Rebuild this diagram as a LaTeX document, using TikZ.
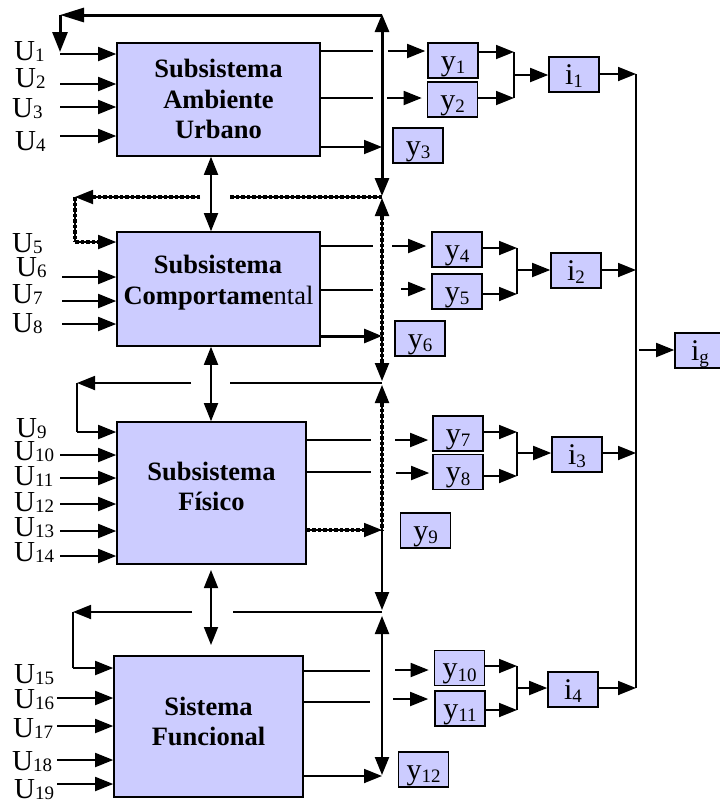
\documentclass[tikz,border=0pt]{standalone}
\usepackage{fontspec}
\setmainfont{Liberation Serif}
\usetikzlibrary{arrows.meta}
\definecolor{boxfill}{RGB}{204,204,255}
\newcommand\usb[1]{\raisebox{-1.5pt}{\fontsize{19}{19}\selectfont #1}}
\newcommand\ysb[1]{\raisebox{-3.5pt}{\fontsize{19}{19}\selectfont #1}}
\tikzset{
  sysbox/.style={draw, fill=boxfill, line width=1.6pt, inner sep=0pt},
  smallbox/.style={draw, fill=boxfill, line width=1.6pt, inner sep=0pt,
    minimum width=50pt, minimum height=35pt, text height=24pt, text depth=5pt,
    font=\fontsize{30}{30}\selectfont},
  boxtext/.style={anchor=base, inner sep=0pt, font=\fontsize{26.5}{30}\selectfont\bfseries},
  ulabel/.style={anchor=base west, inner sep=0pt, font=\fontsize{29}{29}\selectfont},
  conn/.style={line width=1.8pt},
  arr/.style={line width=1.8pt, -{Triangle[length=18pt,width=14pt]}},
  darr/.style={line width=1.8pt, {Triangle[length=18pt,width=14pt]}-{Triangle[length=18pt,width=14pt]}},
  busbold/.style={line width=3pt, {Triangle[length=18pt,width=14pt]}-{Triangle[length=18pt,width=14pt]}},
  busthin/.style={line width=2.2pt, {Triangle[length=18pt,width=14pt]}-{Triangle[length=18pt,width=14pt]}},
  dashov/.style={postaction={draw, -, line width=4pt, dash pattern=on 3.5pt off 2pt, #1}},
  dashov/.default={},
}
\begin{document}
\begin{tikzpicture}[x=1pt,y=-1pt]
\useasboundingbox (0,0) rectangle (720,804);

% main system boxes
\node[sysbox, minimum width=203pt, minimum height=113pt] (b1) at (218.5,99.5) {};
\node[sysbox, minimum width=203pt, minimum height=114pt] (b2) at (218.5,289) {};
\node[sysbox, minimum width=189pt, minimum height=142pt] (b3) at (211.5,493) {};
\node[sysbox, minimum width=189pt, minimum height=141pt] (b4) at (208.5,726.5) {};

\node[boxtext] (t1a) at (218.5,77.3) {Subsistema};
\node[boxtext] (t1b) at (218.5,108.3) {Ambiente};
\node[boxtext] (t1c) at (218.5,138.3) {Urbano};
\node[boxtext] (t2a) at (218,273.3) {Subsistema};
\node[boxtext] (t2b) at (218.5,304) {Comportame{\mdseries ntal}};
\node[boxtext] (t3a) at (211.5,480) {Subsistema};
\node[boxtext] (t3b) at (211.5,510) {Físico};
\node[boxtext] (t4a) at (208.5,715) {Sistema};
\node[boxtext] (t4b) at (208.5,745) {Funcional};

% output boxes
\node[smallbox] (y1) at (453,60.5) {y\ysb{1}};
\node[smallbox] (y2) at (452.5,99.5) {y\ysb{2}};
\node[smallbox] (y3) at (418,145.5) {y\ysb{3}};
\node[smallbox] (y4) at (457,249.5) {y\ysb{4}};
\node[smallbox] (y5) at (457,291.5) {y\ysb{5}};
\node[smallbox] (y6) at (420,338.5) {y\ysb{6}};
\node[smallbox] (y7) at (458,433.5) {y\ysb{7}};
\node[smallbox] (y8) at (458,472) {y\ysb{8}};
\node[smallbox] (y9) at (425.5,530.5) {y\ysb{9}};
\node[smallbox] (y10) at (459.5,668) {y\ysb{10}};
\node[smallbox] (y11) at (460,708.5) {y\ysb{11}};
\node[smallbox] (y12) at (423.5,769.5) {y\ysb{12}};
\node[smallbox] (i1) at (574,74.5) {i\ysb{1}};
\node[smallbox] (i2) at (576,270.5) {i\ysb{2}};
\node[smallbox] (i3) at (577,454.5) {i\ysb{3}};
\node[smallbox] (i4) at (573,689.5) {i\ysb{4}};
\node[smallbox] (ig) at (700,350.5) {i\ysb{g}};

% input labels
\node[ulabel] (u1) at (14,60) {U\usb{1}};
\node[ulabel] (u2) at (15,87) {U\usb{2}};
\node[ulabel] (u3) at (12,117) {U\usb{3}};
\node[ulabel] (u4) at (15,150) {U\usb{4}};
\node[ulabel] (u5) at (12,252) {U\usb{5}};
\node[ulabel] (u6) at (16,276) {U\usb{6}};
\node[ulabel] (u7) at (12,303) {U\usb{7}};
\node[ulabel] (u8) at (12,332) {U\usb{8}};
\node[ulabel] (u9) at (16,437) {U\usb{9}};
\node[ulabel] (u10) at (14,460) {U\usb{10}};
\node[ulabel] (u11) at (14,485) {U\usb{11}};
\node[ulabel] (u12) at (14,511) {U\usb{12}};
\node[ulabel] (u13) at (14,536) {U\usb{13}};
\node[ulabel] (u14) at (14,561) {U\usb{14}};
\node[ulabel] (u15) at (14,683) {U\usb{15}};
\node[ulabel] (u16) at (14,708) {U\usb{16}};
\node[ulabel] (u17) at (13,737) {U\usb{17}};
\node[ulabel] (u18) at (12,770) {U\usb{18}};
\node[ulabel] (u19) at (14,798) {U\usb{19}};

% input arrows
\foreach \n/\yy in {2/84,3/107,4/136} {
  \coordinate (in\n) at (60,\yy);
  \draw[arr] (in\n) -- (in\n -| b1.west);
}
\foreach \n/\yy in {6/277,7/301,8/324} {
  \coordinate (in\n) at (62,\yy);
  \draw[arr] (in\n) -- (in\n -| b2.west);
}
\foreach \n/\yy in {10/455,11/478,12/504,13/531,14/556} {
  \coordinate (in\n) at (60,\yy);
  \draw[arr] (in\n) -- (in\n -| b3.west);
}
\foreach \n/\yy in {16/698,17/726,18/760,19/784} {
  \coordinate (in\n) at (57,\yy);
  \draw[arr] (in\n) -- (in\n -| b4.west);
}

% top feedback to U1
\coordinate (bx) at (382,15);
\coordinate (fb0) at (60,15);
\coordinate (fb1) at (60,52);
\coordinate (in1) at (60,54);
\draw[line width=3pt, -{Triangle[length=24pt,width=14pt]}] (bx) -- (fb0);
\draw[line width=3pt, -{Triangle[length=20pt,width=15pt]}] (fb0) -- (fb1);
\draw[arr] (in1) -- (in1 -| b1.west);

% vertical bus
\coordinate (s1a) at (382,14);
\coordinate (s1b) at (382,196);
\coordinate (s2a) at (382,198);
\coordinate (s2b) at (382,381);
\coordinate (s3a) at (382,385);
\coordinate (s3m) at (382,530);
\coordinate (s3b) at (382,610);
\coordinate (s4a) at (382,616);
\coordinate (s4b) at (382,775);
\draw[busbold] (s1a) -- (s1b);
\draw[busthin, dashov={shorten <=18pt, shorten >=18pt}] (s2a) -- (s2b);
\draw[busthin] (s3a) -- (s3b);
\path[dashov={shorten <=18pt}] (s3a) -- (s3m);
\draw[busthin] (s4a) -- (s4b);

% feedback row A (dashed) to U5
\coordinate (ra0) at (382,197);
\coordinate (ra1) at (230,197);
\coordinate (ra2) at (200,197);
\coordinate (ra3) at (75,197);
\coordinate (ra4) at (75,242);
\draw[conn, dashov] (ra0) -- (ra1);
\draw[arr, dashov={shorten >=18pt}] (ra2) -- (ra3);
\draw[conn, dashov] (ra3) -- (ra4);
\draw[arr, dashov={shorten >=18pt}] (ra4) -- (ra4 -| b2.west);

% feedback row B to U9
\coordinate (rb0) at (382,383);
\coordinate (rb1) at (230,383);
\coordinate (rb2) at (191,383);
\coordinate (rb3) at (77,383);
\coordinate (rb4) at (77,432);
\draw[conn] (rb0) -- (rb1);
\draw[arr] (rb2) -- (rb3);
\draw[conn] (rb3) -- (rb4);
\draw[arr] (rb4) -- (rb4 -| b3.west);

% feedback row C to U15
\coordinate (rc0) at (382,612);
\coordinate (rc1) at (233,612);
\coordinate (rc2) at (192,612);
\coordinate (rc3) at (73,612);
\coordinate (rc4) at (73,668);
\draw[conn] (rc0) -- (rc1);
\draw[arr] (rc2) -- (rc3);
\draw[conn] (rc3) -- (rc4);
\draw[arr] (rc4) -- (rc4 -| b4.west);

% vertical links between systems
\coordinate (vx) at (211,0);
\coordinate (v3a) at (211,570);
\coordinate (v3b) at (211,645);
\draw[darr] (vx |- b1.south) -- (vx |- b2.north);
\draw[darr] (vx |- b2.south) -- (vx |- b3.north);
\draw[darr] (v3a) -- (v3b);

% system outputs
\coordinate (o1a) at (373,51);
\coordinate (o1b) at (373,98);
\coordinate (o1c) at (382,147);
\draw[conn] (o1a -| b1.east) -- (o1a);
\draw[conn] (o1b -| b1.east) -- (o1b);
\draw[arr] (o1c -| b1.east) -- (o1c);
\coordinate (o2a) at (373,246);
\coordinate (o2b) at (373,290);
\coordinate (o2c) at (382,336);
\draw[conn] (o2a -| b2.east) -- (o2a);
\draw[conn] (o2b -| b2.east) -- (o2b);
\draw[line width=3pt, -{Triangle[length=18pt,width=14pt]}] (o2c -| b2.east) -- (o2c);
\coordinate (o3a) at (371,440);
\coordinate (o3b) at (371,472);
\coordinate (o3c) at (382,530);
\draw[conn] (o3a -| b3.east) -- (o3a);
\draw[conn] (o3b -| b3.east) -- (o3b);
\draw[arr, dashov={shorten >=18pt}] (o3c -| b3.east) -- (o3c);
\coordinate (o4a) at (370,671);
\coordinate (o4b) at (370,702);
\coordinate (o4c) at (382,776);
\draw[conn] (o4a -| b4.east) -- (o4a);
\draw[conn] (o4b -| b4.east) -- (o4b);
\draw[arr] (o4c -| b4.east) -- (o4c);

% arrows into output boxes
\coordinate (p1) at (388,51);
\coordinate (p2) at (387,98);
\coordinate (p4) at (392,246);
\coordinate (p5) at (401,289);
\coordinate (p7) at (395,440);
\coordinate (p8) at (396,473);
\coordinate (p10) at (395,670);
\coordinate (p11) at (393,699);
\draw[arr, shorten >=2pt] (p1) -- (p1 -| y1.west);
\draw[arr, shorten >=5pt] (p2) -- (p2 -| y2.west);
\draw[arr, shorten >=5pt] (p4) -- (p4 -| y4.west);
\draw[arr, shorten >=5pt] (p5) -- (p5 -| y5.west);
\draw[arr, shorten >=4pt] (p7) -- (p7 -| y7.west);
\draw[arr, shorten >=3pt] (p8) -- (p8 -| y8.west);
\draw[arr, shorten >=5pt] (p10) -- (p10 -| y10.west);
\draw[arr, shorten >=6pt] (p11) -- (p11 -| y11.west);

% merges into indicators
\coordinate (j1a) at (514,52);
\coordinate (j1b) at (514,98);
\coordinate (j1m) at (514,75);
\draw[arr] (y1.east |- j1a) -- (j1a);
\draw[arr] (y2.east |- j1b) -- (j1b);
\draw[conn] (j1a) -- (j1b);
\draw[arr] (j1m) -- (j1m -| i1.west);

\coordinate (j2a) at (517,248);
\coordinate (j2b) at (517,294);
\coordinate (j2m) at (517,270);
\draw[arr] (y4.east |- j2a) -- (j2a);
\draw[arr] (y5.east |- j2b) -- (j2b);
\draw[conn] (j2a) -- (j2b);
\draw[arr] (j2m) -- (j2m -| i2.west);

\coordinate (j3a) at (517,432);
\coordinate (j3b) at (517,476);
\coordinate (j3m) at (517,453);
\draw[arr] (y7.east |- j3a) -- (j3a);
\draw[arr] (y8.east |- j3b) -- (j3b);
\draw[conn] (j3a) -- (j3b);
\draw[arr] (j3m) -- (j3m -| i3.west);

\coordinate (j4a) at (517,666);
\coordinate (j4b) at (517,710);
\coordinate (j4m) at (517,688);
\draw[arr] (y10.east |- j4a) -- (j4a);
\draw[arr] (y11.east |- j4b) -- (j4b);
\draw[conn] (j4a) -- (j4b);
\draw[arr] (j4m) -- (j4m -| i4.west);

% collector to global indicator
\coordinate (k1) at (636,74);
\coordinate (k2) at (636,270);
\coordinate (k3) at (636,453);
\coordinate (k4) at (636,688);
\coordinate (kg) at (639,350);
\draw[arr] (i1.east |- k1) -- (k1);
\draw[arr] (i2.east |- k2) -- (k2);
\draw[arr] (i3.east |- k3) -- (k3);
\draw[arr] (i4.east |- k4) -- (k4);
\draw[conn] (k1) -- (k4);
\draw[arr] (kg) -- (kg -| ig.west);
\end{tikzpicture}
\end{document}
